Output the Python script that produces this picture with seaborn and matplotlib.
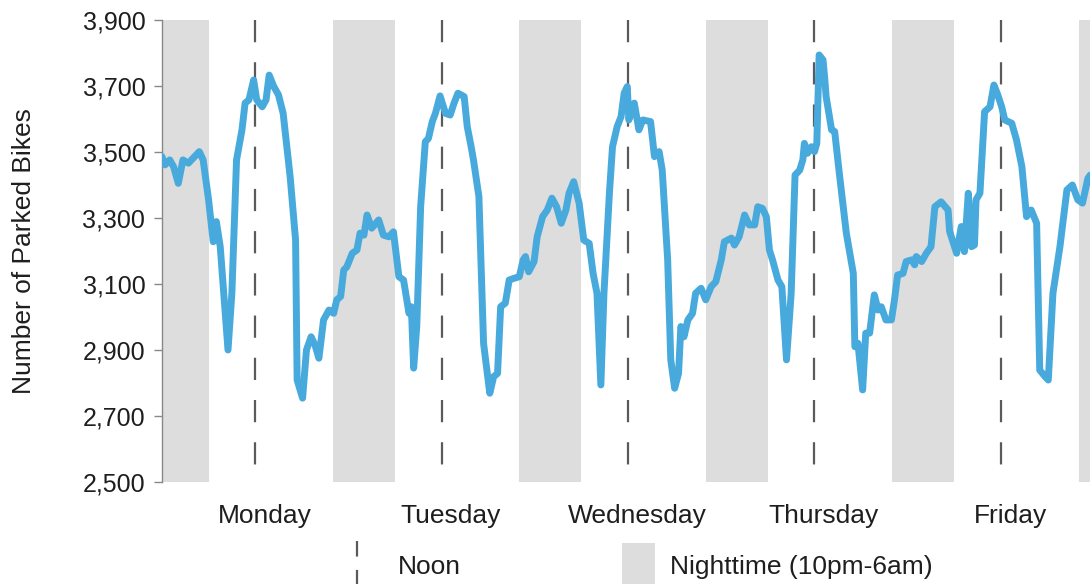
import matplotlib
matplotlib.use('Agg')
import numpy as np
import pandas as pd
import matplotlib.pyplot as plt
import seaborn as sns
from matplotlib.lines import Line2D
from matplotlib.patches import Rectangle

# hours since Monday 00:00, and parked bikes
hours = [0.0, 0.4, 1.0, 1.5, 2.1, 2.7, 3.4, 4.0, 4.8, 5.3, 6.0, 6.6, 7.0, 7.5, 8.5, 9.0, 9.6,
         10.3, 10.7, 11.2, 11.8, 12.2, 12.9, 13.4, 13.8, 14.4, 15.0, 15.6, 16.5, 17.2, 17.4,
         18.1, 18.6, 19.2, 19.7, 20.2, 20.8, 21.5, 22.1, 22.5, 23.0, 23.4, 23.8, 24.5, 25.1,
         25.5, 26.0, 26.4, 27.0, 27.9, 28.5, 29.2, 29.8, 30.5, 31.1, 31.8, 32.1, 32.4, 32.8,
         33.3, 33.9, 34.3, 34.8, 35.2, 35.8, 36.5, 37.1, 37.6, 38.1, 38.9, 39.3, 39.8, 40.1,
         40.8, 41.4, 42.2, 42.7, 43.2, 43.6, 44.2, 44.7, 45.3, 46.0, 46.5, 46.8, 47.2, 47.9,
         48.3, 49.0, 49.6, 50.2, 50.8, 51.4, 52.0, 52.4, 53.0, 53.7, 54.3, 55.0, 55.5, 56.0,
         56.5, 56.9, 57.6, 58.0, 58.6, 59.1, 59.5, 59.9, 60.1, 60.8, 61.4, 61.9, 62.9, 63.4,
         64.0, 64.4, 65.1, 65.5, 66.0, 66.5, 66.8, 67.2, 67.7, 68.3, 68.7, 69.4, 70.0, 70.7,
         71.3, 72.0, 72.4, 73.3, 73.7, 74.3, 75.0, 75.6, 76.3, 76.7, 77.3, 77.8, 78.2, 78.6,
         79.3, 79.8, 80.4, 81.0, 81.5, 82.1, 82.5, 82.7, 83.1, 83.6, 84.0, 84.3, 84.6, 85.1,
         85.3, 85.5, 86.2, 86.6, 87.2, 88.1, 88.7, 89.0, 89.2, 89.6, 90.2, 90.6, 91.1, 91.7,
         92.2, 92.6, 93.2, 93.9, 94.3, 94.7, 95.4, 95.8, 96.5, 96.9, 97.1, 97.8, 98.4, 99.0,
         99.5, 100.3, 101.2, 101.4, 102.3, 102.9, 103.3, 103.8, 104.2, 104.6, 104.8, 105.3,
         105.9, 106.6, 107.1, 107.6, 108.1, 108.5, 109.4, 110.0, 110.7, 111.3, 111.9, 112.6,
         113.0, 113.7, 114.1, 114.7, 115.6, 116.5, 117.2, 117.9, 118.5, 119.2, 119.5]
bikes = [3486, 3461, 3476, 3455, 3405, 3476, 3466, 3481, 3501, 3476, 3355, 3228, 3289, 3213, 2900, 3072, 3476,
         3567, 3648, 3658, 3718, 3658, 3637, 3658, 3733, 3698, 3673, 3617, 3425, 3233, 2809,
         2754, 2900, 2940, 2915, 2875, 2991, 3021, 3011, 3052, 3062, 3142, 3152, 3193, 3203,
         3254, 3248, 3309, 3269, 3294, 3248, 3243, 3258, 3122, 3112, 3011, 3031, 2845, 2971,
         3334, 3531, 3541, 3592, 3617, 3670, 3617, 3612, 3648, 3678, 3668, 3577, 3516, 3476,
         3365, 2920, 2769, 2819, 2829, 3031, 3042, 3112, 3117, 3122, 3173, 3183, 3137, 3168,
         3243, 3304, 3324, 3360, 3334, 3284, 3324, 3375, 3410, 3345, 3233, 3223, 3132, 3072,
         2794, 3072, 3375, 3516, 3577, 3607, 3678, 3698, 3597, 3648, 3567, 3597, 3592, 3486,
         3501, 3445, 3173, 2870, 2784, 2829, 2971, 2940, 2991, 3011, 3072, 3087, 3052, 3092,
         3107, 3173, 3228, 3239, 3218, 3243, 3309, 3279, 3279, 3334, 3329, 3304, 3203, 3173,
         3112, 3092, 2870, 3072, 3430, 3445, 3476, 3526, 3496, 3516, 3501, 3526, 3794, 3779,
         3728, 3668, 3567, 3562, 3435, 3254, 3173, 3132, 2910, 2920, 2779, 2951, 2951, 3067,
         3021, 3031, 2991, 2991, 3052, 3127, 3132, 3168, 3173, 3158, 3183, 3168, 3193, 3213,
         3334, 3349, 3324, 3259, 3193, 3274, 3198, 3375, 3213, 3218, 3355, 3375,
         3622, 3637, 3703, 3673, 3637, 3597, 3587, 3537, 3456, 3304, 3324, 3284,
         2839, 2819, 2809, 3072, 3213, 3385, 3400, 3355, 3345, 3420, 3430]

day_names = ['Monday', 'Tuesday', 'Wednesday', 'Thursday', 'Friday']
noon_hours = [12, 36, 60, 84, 108]
night_starts = [-2, 22, 46, 70, 94, 118]   # 10pm
night_length = 8                            # until 6am
y_ticks = [2500, 2700, 2900, 3100, 3300, 3500, 3700, 3900]

df = pd.DataFrame({'hour': hours, 'bikes': bikes})

sns.set_style('white')
plt.rcParams['font.family'] = ['Liberation Sans', 'DejaVu Sans']

line_color = '#48aadc'
night_color = '#dcdddc'
noon_color = '#5a5a5a'
text_color = '#1e1e1e'
fs = 19

fig = plt.figure(figsize=(10.9, 5.84), dpi=100)
ax = fig.add_axes([0.1486, 0.1747, 0.8514, 0.7911])

for s in night_starts:
    ax.axvspan(s, s + night_length, color=night_color, lw=0, zorder=0)
for n in noon_hours:
    ax.plot([n, n], [y_ticks[-1], y_ticks[0]], color=noon_color, lw=1.6,
            dashes=(10, 9), zorder=1)

sns.lineplot(data=df, x='hour', y='bikes', color=line_color, linewidth=5.0, ax=ax,
             zorder=3, estimator=None, solid_joinstyle='round', solid_capstyle='round')

ax.set_xlim(0, 119.47)
ax.set_ylim(y_ticks[0], y_ticks[-1])
ax.set_yticks(y_ticks)
ax.set_yticklabels([f'{v:,}' for v in y_ticks], fontsize=18, color=text_color)
ax.set_xticks([n + 1.2 for n in noon_hours])
ax.set_xticklabels(day_names, fontsize=fs, color=text_color)
ax.tick_params(axis='x', length=0, pad=16)
ax.tick_params(axis='y', length=6, width=1, color='#888888', pad=6, direction='out', left=True)
ax.set_xlabel('')
ax.set_ylabel('')
for side in ['top', 'right', 'bottom']:
    ax.spines[side].set_visible(False)
ax.spines['left'].set_color('#888888')
ax.spines['left'].set_linewidth(1)

fig.text(24 / 1090, 1 - 251 / 584, 'Number of Parked Bikes', rotation=90,
         ha='center', va='center', fontsize=fs, color=text_color)

# legend row along the bottom edge
fig.add_artist(Line2D([357 / 1090, 357 / 1090], [1 - 541 / 584, 0], color=noon_color,
                      lw=1.6, dashes=(7, 6), transform=fig.transFigure))
fig.text(398 / 1090, 1 - 567 / 584, 'Noon', ha='left', va='center', fontsize=fs, color=text_color)
fig.add_artist(Rectangle((622 / 1090, 0), 33 / 1090, 41 / 584, color=night_color, lw=0,
                         transform=fig.transFigure))
fig.text(670 / 1090, 1 - 567 / 584, 'Nighttime (10pm-6am)', ha='left', va='center',
         fontsize=fs, color=text_color)

fig.savefig('out.png', dpi=100)
